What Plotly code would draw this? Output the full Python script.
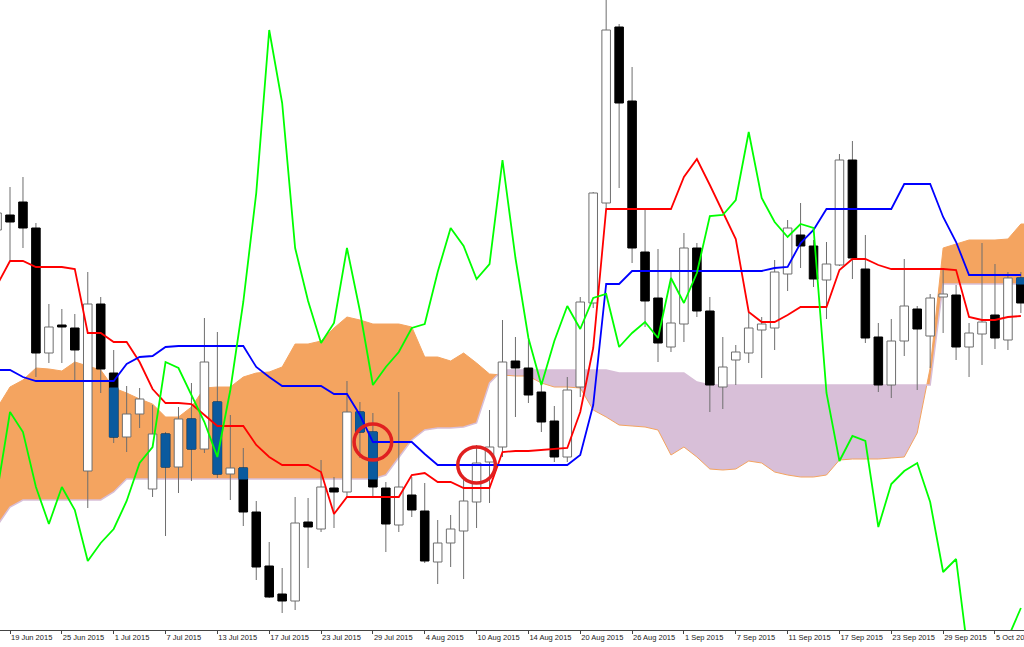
import numpy as np
import pandas as pd
import plotly.graph_objects as go

# ---------------- DATA (EUR/USD daily, Ichimoku) ----------------
bar_dates = pd.bdate_range("2015-06-18", periods=80)   # trading days shown

tick_labels = ["19 Jun 2015", "25 Jun 2015", "1 Jul 2015", "7 Jul 2015", "13 Jul 2015",
               "17 Jul 2015", "23 Jul 2015", "29 Jul 2015", "4 Aug 2015", "10 Aug 2015",
               "14 Aug 2015", "20 Aug 2015", "26 Aug 2015", "1 Sep 2015", "7 Sep 2015",
               "11 Sep 2015", "17 Sep 2015", "23 Sep 2015", "29 Sep 2015", "5 Oct 2015"]

opens = [1.1370, 1.1385, 1.1398, 1.1372, 1.1247, 1.1275, 1.1272, 1.1129, 1.1296, 1.1227,
         1.1163, 1.1186, 1.1111, 1.1166, 1.1133, 1.1181, 1.1151, 1.1198, 1.1126, 1.1132,
         1.1088, 1.1034, 1.1006, 1.0999, 1.1078, 1.1071, 1.1112, 1.1108, 1.1188, 1.1168,
         1.1112, 1.1075, 1.1105, 1.1089, 1.1038, 1.1057, 1.1069, 1.1098, 1.1138, 1.1153,
         1.1239, 1.1232, 1.1208, 1.1179, 1.1143, 1.1213, 1.1297, 1.1397, 1.1573, 1.1499,
         1.1348, 1.1302, 1.1253, 1.1276, 1.1352, 1.1289, 1.1213, 1.1240, 1.1247, 1.1270,
         1.1272, 1.1326, 1.1365, 1.1354, 1.1320, 1.1335, 1.1440, 1.1331, 1.1263, 1.1215,
         1.1259, 1.1291, 1.1264, 1.1303, 1.1305, 1.1253, 1.1266, 1.1285, 1.1260, 1.1322]
highs = [1.1395, 1.1413, 1.1423, 1.1377, 1.1296, 1.1291, 1.1286, 1.1328, 1.1303, 1.1250,
         1.1214, 1.1212, 1.1195, 1.1168, 1.1193, 1.1217, 1.1282, 1.1268, 1.1185, 1.1152,
         1.1099, 1.1058, 1.1032, 1.1103, 1.1102, 1.1140, 1.1123, 1.1219, 1.1198, 1.1187,
         1.1118, 1.1208, 1.1123, 1.1117, 1.1080, 1.1085, 1.1123, 1.1155, 1.1190, 1.1280,
         1.1263, 1.1260, 1.1217, 1.1194, 1.1223, 1.1303, 1.1408, 1.1644, 1.1576, 1.1533,
         1.1391, 1.1351, 1.1330, 1.1367, 1.1357, 1.1303, 1.1263, 1.1255, 1.1288, 1.1283,
         1.1340, 1.1380, 1.1397, 1.1360, 1.1358, 1.1446, 1.1459, 1.1365, 1.1277, 1.1281,
         1.1341, 1.1294, 1.1306, 1.1330, 1.1315, 1.1277, 1.1357, 1.1336, 1.1328, 1.1328]
lows = [1.1364, 1.1340, 1.1352, 1.1223, 1.1237, 1.1237, 1.1220, 1.1092, 1.1207, 1.1157,
        1.1148, 1.1172, 1.1103, 1.1064, 1.1107, 1.1119, 1.1147, 1.1122, 1.1100, 1.1074,
        1.1020, 1.1002, 1.0987, 1.0990, 1.1032, 1.1068, 1.1072, 1.1103, 1.1142, 1.1102,
        1.1048, 1.1068, 1.1083, 1.1037, 1.1016, 1.1033, 1.1021, 1.1072, 1.1097, 1.1143,
        1.1183, 1.1197, 1.1168, 1.1138, 1.1138, 1.1203, 1.1292, 1.1392, 1.1412, 1.1337,
        1.1273, 1.1238, 1.1248, 1.1258, 1.1283, 1.1188, 1.1191, 1.1215, 1.1237, 1.1222,
        1.1250, 1.1309, 1.1332, 1.1313, 1.1281, 1.1334, 1.1321, 1.1257, 1.1208, 1.1202,
        1.1244, 1.1210, 1.1232, 1.1267, 1.1240, 1.1223, 1.1235, 1.1251, 1.1250, 1.1287]
closes = [1.1387, 1.1378, 1.1372, 1.1247, 1.1273, 1.1273, 1.1250, 1.1296, 1.1231, 1.1163,
          1.1186, 1.1201, 1.1166, 1.1133, 1.1181, 1.1151, 1.1238, 1.1126, 1.1132, 1.1088,
          1.1033, 1.1003, 1.0999, 1.1077, 1.1073, 1.1113, 1.1108, 1.1188, 1.1168, 1.1113,
          1.1076, 1.1113, 1.1090, 1.1039, 1.1057, 1.1071, 1.1099, 1.1137, 1.1153, 1.1238,
          1.1232, 1.1205, 1.1178, 1.1143, 1.1210, 1.1298, 1.1407, 1.1570, 1.1497, 1.1352,
          1.1299, 1.1257, 1.1277, 1.1352, 1.1289, 1.1215, 1.1233, 1.1248, 1.1272, 1.1276,
          1.1328, 1.1372, 1.1354, 1.1321, 1.1336, 1.1440, 1.1342, 1.1262, 1.1215, 1.1259,
          1.1294, 1.1271, 1.1302, 1.1306, 1.1253, 1.1267, 1.1278, 1.1262, 1.1322, 1.1297]
# closes of the 26 sessions after the visible window (feed the lagging Chikou span)
later_closes = [1.1327, 1.1384, 1.1385, 1.1400, 1.1468, 1.1402, 1.1378, 1.1363, 1.1376,
                1.1372, 1.1207, 1.1139, 1.1164, 1.1159, 1.1073, 1.1116, 1.1129, 1.1137,
                1.1098, 1.1028, 1.1041, 1.0938, 1.0900, 1.0910, 1.0962, 1.0992]

tenkan = [1.1315, 1.1339, 1.1339, 1.1333, 1.1333, 1.1333, 1.1331, 1.1267, 1.1267, 1.1258,
          1.1258, 1.1238, 1.1211, 1.1197, 1.1197, 1.1196, 1.1185, 1.1174, 1.1174, 1.1174,
          1.1155, 1.1143, 1.1135, 1.1135, 1.1135, 1.1128, 1.1086, 1.1103, 1.1103, 1.1103,
          1.1103, 1.1103, 1.1125, 1.1127, 1.1118, 1.1118, 1.1112, 1.1112, 1.1112, 1.1148,
          1.1149, 1.1149, 1.1150, 1.1151, 1.1152, 1.1188, 1.1252, 1.1391, 1.1391, 1.1391,
          1.1391, 1.1391, 1.1391, 1.1423, 1.1441, 1.1415, 1.1388, 1.1361, 1.1288, 1.1278,
          1.1278, 1.1285, 1.1293, 1.1293, 1.1293, 1.1330, 1.1341, 1.1341, 1.1335, 1.1331,
          1.1331, 1.1331, 1.1331, 1.1331, 1.1330, 1.1283, 1.1280, 1.1280, 1.1283, 1.1284]
kijun = [1.1230, 1.1230, 1.1223, 1.1219, 1.1219, 1.1219, 1.1219, 1.1219, 1.1219, 1.1219,
         1.1236, 1.1243, 1.1244, 1.1253, 1.1254, 1.1254, 1.1254, 1.1254, 1.1254, 1.1254,
         1.1233, 1.1223, 1.1214, 1.1214, 1.1214, 1.1214, 1.1206, 1.1206, 1.1185, 1.1158,
         1.1158, 1.1158, 1.1158, 1.1146, 1.1135, 1.1135, 1.1135, 1.1135, 1.1135, 1.1135,
         1.1135, 1.1135, 1.1135, 1.1135, 1.1135, 1.1145, 1.1195, 1.1316, 1.1316, 1.1329,
         1.1329, 1.1329, 1.1329, 1.1329, 1.1329, 1.1329, 1.1329, 1.1329, 1.1329, 1.1329,
         1.1332, 1.1333, 1.1357, 1.1370, 1.1391, 1.1391, 1.1391, 1.1391, 1.1391, 1.1391,
         1.1416, 1.1416, 1.1416, 1.1383, 1.1358, 1.1325, 1.1325, 1.1325, 1.1325, 1.1325]
# Senkou spans (already displaced 26 sessions forward), one extra point past the window
span_a = [1.1192, 1.1213, 1.1220, 1.1232, 1.1231, 1.1229, 1.1238, 1.1234, 1.1230, 1.1212,
          1.1207, 1.1201, 1.1196, 1.1183, 1.1183, 1.1193, 1.1212, 1.1213, 1.1213, 1.1223,
          1.1227, 1.1228, 1.1233, 1.1256, 1.1256, 1.1259, 1.1272, 1.1283, 1.1280, 1.1276,
          1.1276, 1.1276, 1.1273, 1.1243, 1.1243, 1.1239, 1.1247, 1.1237, 1.1226, 1.1225,
          1.1224, 1.1224, 1.1217, 1.1213, 1.1213, 1.1212, 1.1190, 1.1183, 1.1175, 1.1174,
          1.1173, 1.1170, 1.1145, 1.1153, 1.1143, 1.1131, 1.1130, 1.1131, 1.1139, 1.1137,
          1.1128, 1.1125, 1.1123, 1.1123, 1.1125, 1.1140, 1.1141, 1.1141, 1.1141, 1.1142,
          1.1143, 1.1167, 1.1232, 1.1352, 1.1356, 1.1360, 1.1360, 1.1360, 1.1361, 1.1376,
          1.1376]
span_b = [1.1074, 1.1093, 1.1100, 1.1100, 1.1100, 1.1100, 1.1100, 1.1100, 1.1100, 1.1108,
          1.1121, 1.1121, 1.1121, 1.1121, 1.1121, 1.1121, 1.1121, 1.1121, 1.1121, 1.1121,
          1.1121, 1.1121, 1.1121, 1.1121, 1.1121, 1.1121, 1.1121, 1.1121, 1.1121, 1.1121,
          1.1125, 1.1143, 1.1160, 1.1170, 1.1172, 1.1172, 1.1173, 1.1177, 1.1217, 1.1230,
          1.1230, 1.1230, 1.1230, 1.1230, 1.1230, 1.1230, 1.1230, 1.1230, 1.1227, 1.1227,
          1.1227, 1.1227, 1.1227, 1.1227, 1.1218, 1.1215, 1.1215, 1.1215, 1.1215, 1.1215,
          1.1215, 1.1215, 1.1215, 1.1215, 1.1215, 1.1215, 1.1215, 1.1215, 1.1215, 1.1215,
          1.1215, 1.1215, 1.1215, 1.1316, 1.1316, 1.1316, 1.1316, 1.1316, 1.1316, 1.1316,
          1.1316]

highlight_dates = ["2015-07-29", "2015-08-10"]   # sessions circled in red

# ---------------- DERIVED ----------------
n = len(bar_dates)
bar_x = np.arange(n) - 1                      # session 19 Jun 2015 = 0
date_to_x = {d.strftime("%Y-%m-%d"): x for d, x in zip(bar_dates, bar_x)}
tick_pos = [date_to_x[pd.to_datetime(t).strftime("%Y-%m-%d")] for t in tick_labels]

all_closes = closes + later_closes
chikou = [all_closes[k + 26] for k in range(n)]

span_x = np.arange(len(span_a)) - 1
A = np.array(span_a); B = np.array(span_b)

# insert crossing points so the two cloud colours meet exactly
cx, ca, cb = [], [], []
for k in range(len(A)):
    cx.append(span_x[k]); ca.append(A[k]); cb.append(B[k])
    if k < len(A) - 1:
        d0, d1 = A[k] - B[k], A[k + 1] - B[k + 1]
        if d0 * d1 < 0:
            t = d0 / (d0 - d1)
            yc = A[k] + t * (A[k + 1] - A[k])
            cx.append(span_x[k] + t); ca.append(yc); cb.append(yc)
ca = np.array(ca); cb = np.array(cb)
cloud_top = np.maximum(ca, cb)

ORANGE = "#f4a460"
THISTLE = "#d8bfd8"
WICK = "#6e6e6e"
BLUEBODY = "#0b5a9e"
HW = 0.33  # half body width in sessions

fig = go.Figure()

# cloud: orange where span A above span B, thistle otherwise
fig.add_trace(go.Scatter(x=cx, y=cb, mode="lines", line=dict(width=0), hoverinfo="skip"))
fig.add_trace(go.Scatter(x=cx, y=cloud_top, mode="lines", line=dict(width=0), fill="tonexty",
                         fillcolor=ORANGE, hoverinfo="skip"))
fig.add_trace(go.Scatter(x=cx, y=ca, mode="lines", line=dict(width=0), hoverinfo="skip"))
fig.add_trace(go.Scatter(x=cx, y=cloud_top, mode="lines", line=dict(width=0), fill="tonexty",
                         fillcolor=THISTLE, hoverinfo="skip"))
fig.add_trace(go.Scatter(x=span_x, y=span_a, mode="lines", line=dict(color=ORANGE, width=1),
                         name="Senkou Span A"))
fig.add_trace(go.Scatter(x=span_x, y=span_b, mode="lines", line=dict(color=THISTLE, width=1.5),
                         name="Senkou Span B"))

# candles
wx, wy = [], []
ux, uy, dx, dy, bx, by = [], [], [], [], [], []
for k in range(n):
    x = bar_x[k]
    o, h, l, c = opens[k], highs[k], lows[k], closes[k]
    wx += [x, x, None]; wy += [l, h, None]
    lo, hi = min(o, c), max(o, c)
    rx = [x - HW, x + HW, x + HW, x - HW, x - HW, None]
    ry = [lo, lo, hi, hi, lo, None]
    if c >= o:
        ux += rx; uy += ry
    else:
        dx += rx; dy += ry
        if A[k] > B[k]:                       # bearish body inside the orange cloud
            b_lo, b_hi = max(lo, B[k]), min(hi, A[k])
            if b_hi > b_lo:
                bx += rx; by += [b_lo, b_lo, b_hi, b_hi, b_lo, None]

fig.add_trace(go.Scatter(x=wx, y=wy, mode="lines", line=dict(color=WICK, width=1), hoverinfo="skip"))
fig.add_trace(go.Scatter(x=ux, y=uy, mode="lines", fill="toself", fillcolor="white",
                         line=dict(color=WICK, width=1), hoverinfo="skip"))
fig.add_trace(go.Scatter(x=dx, y=dy, mode="lines", fill="toself", fillcolor="black",
                         line=dict(color="black", width=1), hoverinfo="skip"))
fig.add_trace(go.Scatter(x=bx, y=by, mode="lines", fill="toself", fillcolor=BLUEBODY,
                         line=dict(color=BLUEBODY, width=1), hoverinfo="skip"))

# Ichimoku lines
fig.add_trace(go.Scatter(x=bar_x, y=tenkan, mode="lines", line=dict(color="#ff0000", width=1.8),
                         name="Tenkan-sen"))
fig.add_trace(go.Scatter(x=bar_x, y=kijun, mode="lines", line=dict(color="#0000ff", width=1.8),
                         name="Kijun-sen"))
fig.add_trace(go.Scatter(x=bar_x, y=chikou, mode="lines", line=dict(color="#00ff00", width=1.8),
                         name="Chikou Span"))

# red circles around the highlighted sessions (centred on the Kijun-sen)
for d in highlight_dates:
    xi = date_to_x[d]
    yk = kijun[int(xi) + 1]
    fig.add_shape(type="circle", xref="x", yref="y",
                  x0=xi - 1.45, x1=xi + 1.45, y0=yk - 0.0018, y1=yk + 0.0018,
                  line=dict(color="#e02020", width=3.5))

fig.update_layout(width=1024, height=647, margin=dict(l=0, r=0, t=0, b=17),
                  plot_bgcolor="white", paper_bgcolor="white", showlegend=False)
fig.update_xaxes(range=[-0.772, 78.24], tickmode="array", tickvals=tick_pos, ticktext=tick_labels,
                 ticks="outside", ticklen=3, tickcolor="#444", showline=True, linecolor="#444",
                 linewidth=1, showgrid=False, zeroline=False, ticklabelposition="outside right",
                 ticklabeloverflow="allow", tickangle=0, automargin=False,
                 tickfont=dict(family="Liberation Sans", size=7.5, color="#222"))
fig.update_yaxes(range=[1.0970, 1.1600], visible=False)

fig.write_html("out.html", config={"displayModeBar": False},
               post_script="document.body.style.margin='0';document.body.style.padding='0';"
                           "document.body.style.overflow='hidden';")
